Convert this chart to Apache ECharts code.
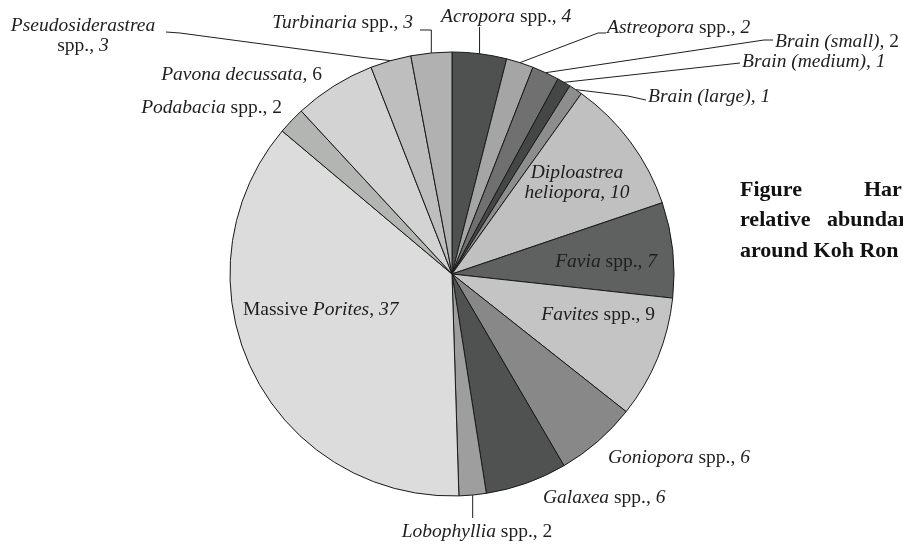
<!DOCTYPE html>
<html>
<head>
<meta charset="utf-8">
<script src="https://cdn.jsdelivr.net/npm/echarts@6/dist/echarts.min.js"></script>
<style>
  html, body { margin: 0; padding: 0; background: #fff; }
  #chart { width: 903px; height: 548px; }
</style>
</head>
<body>
<div id="chart"></div>
<script>
// coral taxa, clockwise from 12 o'clock
const taxa = [
  'Acropora spp.', 'Astreopora spp.', 'Brain (small)', 'Brain (medium)', 'Brain (large)',
  'Diploastrea heliopora', 'Favia spp.', 'Favites spp.', 'Goniopora spp.', 'Galaxea spp.',
  'Lobophyllia spp.', 'Massive Porites', 'Podabacia spp.', 'Pavona decussata',
  'Pseudosiderastrea spp.', 'Turbinaria spp.'
];
const counts = [4, 2, 2, 1, 1, 10, 7, 9, 6, 6, 2, 37, 2, 6, 3, 3];

// label text, {v} is replaced by the count
const captions = [
  '{i|Acropora} spp., {i|{v}}',
  '{i|Astreopora} spp., {i|{v}}',
  '{i|Brain (small), }{n|{v}}',
  '{i|Brain (medium), {v}}',
  '{i|Brain (large), {v}}',
  '{i|Diploastrea}\n{i|heliopora, {v}}',
  '{i|Favia} spp., {i|{v}}',
  '{i|Favites} spp., {n|{v}}',
  '{i|Goniopora} spp., {i|{v}}',
  '{i|Galaxea} spp., {i|{v}}',
  '{i|Lobophyllia} spp., {n|{v}}',
  'Massive {i|Porites}, {i|{v}}',
  '{i|Podabacia} spp., {n|{v}}',
  '{i|Pavona decussata}, {n|{v}}',
  '{i|Pseudosiderastrea}\nspp., {i|{v}}',
  '{i|Turbinaria} spp., {i|{v}}'
];

const shades = [
  '#4e5150', '#a4a5a4', '#6f706f', '#454746', '#8c8d8c',
  '#bfc0bf', '#5f6160', '#c3c4c3', '#878887', '#4f5251',
  '#9d9e9d', '#dcdcdc', '#b3b5b3', '#d3d3d3', '#bdbebd', '#b0b1b0'
];

// where each label sits; line = extra leader points after the slice edge (null x = straight down/up)
const spots = [
  { x: 441, y: 17, align: 'left', line: [[null, 27]] },
  { x: 607, y: 28, align: 'left', line: [[598, 33], [606, 33]] },
  { x: 775, y: 42, align: 'left', line: [[764, 40], [773, 40]] },
  { x: 742, y: 62, align: 'left', line: [[740, 63]] },
  { x: 648, y: 97, align: 'left', line: [[628, 96], [646, 100]] },
  { x: 577, y: 183, align: 'center' },
  { x: 657, y: 262, align: 'right' },
  { x: 655, y: 315, align: 'right' },
  { x: 608, y: 458, align: 'left' },
  { x: 543, y: 498, align: 'left' },
  { x: 477, y: 532, align: 'center', line: [[null, 518]] },
  { x: 243, y: 310, align: 'left' },
  { x: 282, y: 108, align: 'right' },
  { x: 322, y: 75, align: 'right' },
  { x: 83, y: 36, align: 'center', line: [[367, 58], [180, 33], [166, 32]] },
  { x: 413, y: 23, align: 'right', line: [[null, 30], [420, 30]] }
];

const serif = "'Liberation Serif', 'DejaVu Serif', serif";
const fs = 19.5;

const chart = echarts.init(document.getElementById('chart'));

const data = taxa.map((name, i) => ({
  name: name,
  value: counts[i],
  itemStyle: { color: shades[i] },
  label: { formatter: captions[i].replace(/\{v\}/g, counts[i]) },
  labelLine: { show: !!spots[i].line }
}));

chart.setOption({
  backgroundColor: '#ffffff',
  animation: false,
  graphic: [
    { type: 'text', left: 740, top: 179, style: { text: 'Figure', font: 'bold 22px ' + serif, fill: '#111' } },
    { type: 'text', left: 864, top: 179, style: { text: 'Har', font: 'bold 22px ' + serif, fill: '#111' } },
    { type: 'text', left: 740, top: 209, style: { text: 'relative', font: 'bold 22px ' + serif, fill: '#111' } },
    { type: 'text', left: 827, top: 209, style: { text: 'abundar', font: 'bold 22px ' + serif, fill: '#111' } },
    { type: 'text', left: 740, top: 240, style: { text: 'around Koh Ron', font: 'bold 22px ' + serif, fill: '#111' } }
  ],
  series: [{
    type: 'pie',
    center: [452, 274],
    radius: 222,
    startAngle: 90,
    clockwise: true,
    avoidLabelOverlap: false,
    silent: true,
    itemStyle: { borderColor: '#1a1a1a', borderWidth: 1 },
    label: {
      show: true,
      position: 'outside',
      fontFamily: serif,
      fontSize: fs,
      color: '#1e1e1e',
      lineHeight: 20,
      rich: {
        i: { fontFamily: serif, fontSize: fs, fontStyle: 'italic', color: '#1e1e1e', lineHeight: 20 },
        n: { fontFamily: serif, fontSize: fs, color: '#1e1e1e', lineHeight: 20 }
      }
    },
    labelLine: {
      lineStyle: { color: '#1e1e1e', width: 1 }
    },
    labelLayout: function (params) {
      const s = spots[params.dataIndex];
      const out = { x: s.x, y: s.y, align: s.align, verticalAlign: 'middle' };
      if (s.line && params.labelLinePoints) {
        const p0 = params.labelLinePoints[0];
        out.labelLinePoints = [p0].concat(s.line.map(p => [p[0] === null ? p0[0] : p[0], p[1]]));
      }
      return out;
    },
    data: data
  }]
});
</script>
</body>
</html>
